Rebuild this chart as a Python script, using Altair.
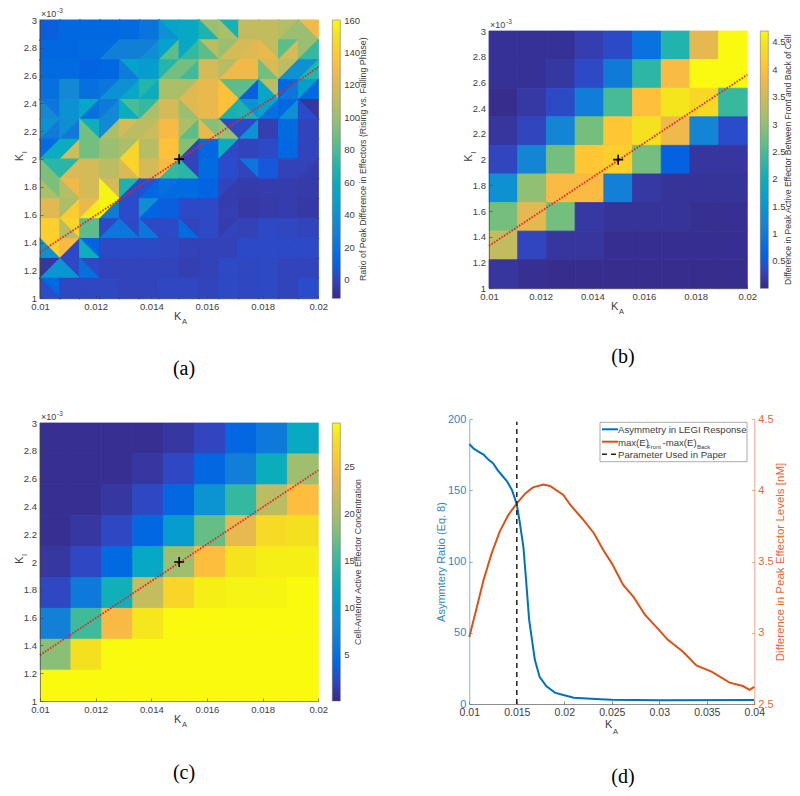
import altair as alt
import numpy as np
import pandas as pd

# MATLAB parula, 64 steps
PARULA_RGB = [
    (.2081, .1663, .5292), (.2116, .1898, .5777), (.2123, .2138, .6270), (.2081, .2386, .6771),
    (.1959, .2645, .7279), (.1707, .2919, .7792), (.1253, .3242, .8303), (.0591, .3598, .8683),
    (.0117, .3875, .8820), (.0060, .4086, .8828), (.0165, .4266, .8786), (.0329, .4430, .8720),
    (.0498, .4586, .8641), (.0629, .4737, .8554), (.0723, .4887, .8467), (.0779, .5040, .8384),
    (.0793, .5200, .8312), (.0749, .5375, .8263), (.0641, .5570, .8240), (.0488, .5772, .8228),
    (.0343, .5966, .8199), (.0265, .6137, .8135), (.0239, .6287, .8038), (.0231, .6418, .7913),
    (.0228, .6535, .7768), (.0267, .6642, .7607), (.0384, .6743, .7436), (.0590, .6838, .7254),
    (.0843, .6928, .7062), (.1133, .7015, .6859), (.1453, .7098, .6646), (.1801, .7177, .6424),
    (.2178, .7250, .6193), (.2586, .7317, .5954), (.3022, .7376, .5712), (.3482, .7424, .5473),
    (.3953, .7459, .5244), (.4420, .7481, .5033), (.4871, .7491, .4840), (.5300, .7491, .4661),
    (.5709, .7485, .4494), (.6099, .7473, .4337), (.6473, .7456, .4188), (.6834, .7435, .4044),
    (.7184, .7411, .3905), (.7525, .7384, .3768), (.7858, .7356, .3633), (.8185, .7327, .3498),
    (.8507, .7299, .3360), (.8824, .7274, .3217), (.9139, .7258, .3063), (.9450, .7261, .2886),
    (.9739, .7314, .2666), (.9938, .7455, .2403), (.9990, .7653, .2164), (.9955, .7861, .1967),
    (.9880, .8066, .1794), (.9789, .8271, .1633), (.9697, .8481, .1475), (.9626, .8705, .1309),
    (.9589, .8949, .1132), (.9598, .9218, .0948), (.9661, .9514, .0755), (.9763, .9831, .0538),
]
PARULA = ["#%02x%02x%02x" % tuple(int(round(c * 255)) for c in rgb) for rgb in PARULA_RGB]

# Panel (a): 14 x 14 cells, top row first, each split into two flat triangles.
# DIAG_A: f = "/" (FIRST is upper-left, SECOND lower-right); b = "\" (FIRST is upper-right, SECOND lower-left)
DIAG_A = ["ffffffbfbbfffb",
          "ffffffffbffbff",
          "ffffbffffffbff",
          "fffffffffbfbff",
          "bfffbffbffbffb",
          "ffbfffffbbffff",
          "ffffffffffffff",
          "bfffbffbffbfff",
          "bbfbffffffffff",
          "ffffffffffffff",
          "fbffbbfbffffff",
          "bfbfffffffffff",
          "fbbfffffffffff",
          "bfffffffffffff"]
FIRST_A = [
    [9, 13, 13, 13, 15, 20, 52, 55, 100, 65, 112, 112, 108, 128],
    [13, 13, 15, 15, 28, 28, 50, 55, 110, 100, 118, 112, 85, 100],
    [15, 15, 11, 13, 50, 45, 70, 90, 118, 108, 128, 120, 110, 40],
    [18, 35, 18, 22, 40, 70, 105, 105, 125, 85, 85, 110, 13, 48],
    [22, 40, 55, 25, 80, 75, 118, 122, 125, 135, 40, 50, 13, -6],
    [40, 38, 62, 35, 118, 110, 130, 105, 95, 2, 2, -2, 15, 0],
    [15, 60, 90, 100, 105, 108, 135, 95, 13, 60, 0, 2, 13, 0],
    [72, 72, 118, 110, 145, 118, 130, 0, 15, 3, 22, 7, -1, -1],
    [92, 128, 118, 118, 68, 5, 18, 15, 11, 0, -4, -3, -3, -4],
    [122, 105, 125, 158, 3, 38, 9, 2, 2, -3, -5, -4, -3, -5],
    [142, 145, 85, 2, 2, 2, 2, 0, 2, -3, -1, 2, 1, 0],
    [142, 130, 11, 2, 2, 2, 1, -1, -1, -1, 2, 2, 2, 2],
    [-6, 2, 2, 0, 0, 0, 0, -2, -1, 2, 1, 2, 0, 0],
    [13, 1, 1, 1, 0, 0, 1, 1, 0, 2, 1, 2, 0, 3],
]
SECOND_A = [
    [9, 13, 13, 13, 15, 20, 40, 55, 68, 105, 112, 112, 100, 100],
    [13, 13, 15, 28, 28, 38, 85, 75, 85, 118, 122, 125, 118, 75],
    [15, 15, 11, 13, 25, 48, 90, 78, 118, 128, 128, 90, 40, 70],
    [18, 35, 18, 40, 55, 60, 105, 122, 125, 135, 9, 55, 22, 13],
    [35, 40, 18, 35, 60, 105, 118, 100, 125, 65, 68, 18, 40, 3],
    [25, 25, 90, 105, 110, 115, 130, 85, 125, 100, 40, -2, 15, 0],
    [60, 115, 90, 100, 145, 108, 135, 0, 13, 2, 0, 2, 13, 0],
    [92, 120, 118, 110, 120, 118, 75, 72, 15, 3, 0, 7, -1, -3],
    [105, 108, 118, 158, 3, 13, 15, 15, 11, -3, -4, -3, -3, -4],
    [122, 140, 155, 25, 3, 11, 9, 2, 2, -2, -5, -4, -3, -5],
    [142, 108, 85, 22, 22, 22, 2, 15, 2, 0, -1, 2, 1, 0],
    [40, 2, 62, 2, 2, 2, 1, -1, -1, -1, 2, 2, 2, 2],
    [42, 42, 18, 0, 0, 0, 0, -2, -1, 2, 1, 2, 0, 0],
    [3, 1, 1, 1, 0, 0, 1, 1, 0, 2, 1, 2, 0, 3],
]

# Panel (b): 9 x 9 cells, top row first
VAL_B = [
    [0.10, 0.10, 0.10, 0.25, 0.38, 0.85, 2.20, 3.70, 4.70],
    [0.10, 0.10, 0.17, 0.38, 1.00, 2.30, 3.90, 4.70, 4.70],
    [0.05, 0.18, 0.38, 1.05, 2.50, 4.00, 4.50, 4.35, 2.40],
    [0.15, 0.33, 1.20, 2.80, 4.10, 4.45, 3.80, 1.20, 0.40],
    [0.33, 1.20, 2.80, 4.10, 4.20, 2.80, 0.60, 0.15, 0.15],
    [1.40, 3.00, 3.90, 3.90, 1.10, 0.18, 0.12, 0.12, 0.12],
    [2.80, 3.70, 2.80, 0.18, 0.12, 0.12, 0.12, 0.08, 0.08],
    [3.40, 0.33, 0.15, 0.15, 0.07, 0.07, 0.07, 0.07, 0.07],
    [0.15, 0.08, 0.05, 0.05, 0.05, 0.05, 0.05, 0.05, 0.05],
]
# Panel (c): 9 x 9 cells, top row first
VAL_C = [
    [0.5, 0.5, 0.5, 0.5, 1.0, 2.1, 4.2, 6.0, 12.0],
    [0.5, 0.5, 0.5, 1.0, 2.3, 4.2, 6.8, 12.5, 19.5],
    [0.5, 0.5, 1.0, 2.3, 4.2, 9.0, 15.0, 21.0, 25.0],
    [0.5, 1.0, 2.3, 4.3, 10.0, 17.0, 23.5, 27.5, 28.0],
    [1.0, 2.3, 4.5, 11.5, 19.5, 25.0, 28.3, 29.0, 29.0],
    [2.3, 6.0, 13.0, 21.5, 27.0, 29.0, 29.3, 29.3, 29.7],
    [7.0, 15.5, 24.5, 28.5, 29.7, 29.7, 29.7, 29.7, 29.7],
    [18.5, 28.0, 29.7, 29.7, 29.7, 29.7, 29.7, 29.7, 29.7],
    [29.7, 29.7, 29.7, 29.7, 29.7, 29.7, 29.7, 29.7, 29.7],
]
LINE_KA = [0.01, 0.02]
LINE_KI = [1.33, 2.66]
PLUS_KA = [0.015]
PLUS_KI = [2.0]

# Panel (d)
BLUE_X = [0.01, 0.0105, 0.011, 0.0115, 0.012, 0.0125, 0.013, 0.0135, 0.014, 0.0145, 0.015,
          0.0153, 0.0157, 0.016, 0.0163, 0.0169, 0.0174, 0.0181, 0.019, 0.0199, 0.021,
          0.0238, 0.025, 0.03, 0.04]
BLUE_Y = [182.5, 179, 177, 175, 171.5, 169, 164, 160, 156, 150, 140,
          128, 110, 85, 59, 31, 19, 12.6, 8, 6.3, 4.4, 3.3, 3, 2.7, 2.8]
ORANGE_X = [0.01, 0.0108, 0.0115, 0.01235, 0.0132, 0.0141, 0.015, 0.0159, 0.0167, 0.0178, 0.0185,
            0.0199, 0.0206, 0.0219, 0.0231, 0.0241, 0.025, 0.0262, 0.0273, 0.0285, 0.0297, 0.0309,
            0.0325, 0.0339, 0.0355, 0.0374, 0.0388, 0.0395, 0.04]
ORANGE_Y = [2.97, 3.18, 3.37, 3.557, 3.71, 3.826, 3.908, 3.978, 4.02, 4.04, 4.03,
            3.967, 3.9, 3.80, 3.70, 3.58, 3.487, 3.335, 3.25, 3.125, 3.04, 2.95,
            2.867, 2.77, 2.727, 2.65, 2.626, 2.6, 2.62]
PAPER_X = [0.015]

KA_TICKS = [0.01, 0.012, 0.014, 0.016, 0.018, 0.02]
KI_TICKS = [1, 1.2, 1.4, 1.6, 1.8, 2, 2.2, 2.4, 2.6, 2.8, 3]
D_X_TICKS = [0.01, 0.015, 0.02, 0.025, 0.03, 0.035, 0.04]
D_L_TICKS = [0, 50, 100, 150, 200]
D_R_TICKS = [2.5, 3, 3.5, 4, 4.5]

W, H = 784, 780
SANS = "Liberation Sans"
GREY = "#404040"
BLUE = "#0072BD"
ORANGE = "#D95319"
AXBLUE = "#2E86C4"
AXORANGE = "#E0693A"
FMT = ".6~r"


def parula_hex(v, lo, hi):
    """Same colour as the colour scale gives, used for the thin seam-hiding outline of each polygon."""
    p = np.clip((v - lo) / (hi - lo), 0, 1) * (len(PARULA_RGB) - 1)
    a = int(np.floor(p))
    b = min(a + 1, len(PARULA_RGB) - 1)
    f = p - a
    return "#%02x%02x%02x" % tuple(
        int(round(255 * (PARULA_RGB[a][c] * (1 - f) + PARULA_RGB[b][c] * f))) for c in range(3))


def color_scale(lo, hi):
    return alt.Scale(domain=[lo, hi], range=PARULA, clamp=True)


def xscale(dom, l, r):
    return alt.Scale(domain=dom, range=[l, r], nice=False, zero=False)


def yscale(dom, t, b):
    return alt.Scale(domain=dom, range=[b, t], nice=False, zero=False)


def x_axis(bottom, values, color=GREY, size=9.5):
    return alt.Axis(orient="top", offset=-bottom, values=values, format=FMT, title=None, grid=False,
                    tickSize=3, tickWidth=0.6, tickColor=color, domainColor=color, domainWidth=0.6,
                    labelColor=GREY, labelFont=SANS, labelFontSize=size, labelBaseline="top",
                    labelPadding=-6, labelOverlap=False, labelFlush=False, zindex=1)


def y_axis(left, values, color=GREY, labelcolor=GREY, size=9.5):
    return alt.Axis(orient="right", offset=left - W, values=values, format=FMT, title=None, grid=False,
                    tickSize=3, tickWidth=0.6, tickColor=color, domainColor=color, domainWidth=0.6,
                    labelColor=labelcolor, labelFont=SANS, labelFontSize=size, labelAlign="right",
                    labelPadding=-6.5, labelOverlap=False, labelFlush=False, zindex=1)


def y_axis_r(right, values, color, labelcolor, size):
    return alt.Axis(orient="left", offset=-right, values=values, format=FMT, title=None, grid=False,
                    tickSize=3, tickWidth=0.6, tickColor=color, domainColor=color, domainWidth=0.6,
                    labelColor=labelcolor, labelFont=SANS, labelFontSize=size, labelAlign="left",
                    labelPadding=-6.5, labelOverlap=False, labelFlush=False, zindex=1)


def legend(x, y, length, values):
    return alt.Legend(orient="none", legendX=x, legendY=y, type="gradient", direction="vertical", title=None,
                      gradientLength=length, gradientThickness=8, gradientStrokeColor="#666666",
                      gradientStrokeWidth=0.5, values=values, format=FMT, labelFont=SANS,
                      labelFontSize=9.5, labelColor=GREY, labelOffset=4, labelOverlap=False, padding=0)


def txt(x, y, s, size=11, color=GREY, font=SANS, angle=0, align="left", baseline="alphabetic"):
    return alt.Chart(pd.DataFrame({"t": [s]})).mark_text(
        font=font, fontSize=size, color=color, angle=angle, align=align, baseline=baseline
    ).encode(text="t:N", x=alt.value(x), y=alt.value(y))


layers = []

# ---------- panel (a) ----------
L, R, T, B = 32, 310.3, 12, 290.3
LO_A, HI_A = -11.3, 160.4
rows = []
step_x = 0.01 / 14
step_y = 2 / 14
for j in range(14):
    top, low = 3 - j * step_y, 3 - (j + 1) * step_y
    for i in range(14):
        x0, x1 = 0.01 + i * step_x, 0.01 + (i + 1) * step_x
        a, b = FIRST_A[j][i], SECOND_A[j][i]
        if DIAG_A[j][i] == "f":
            t1 = [(x0, low, top), (x1, top, top)]
            t2 = [(x0, low, low), (x1, low, top)]
        else:
            t1 = [(x0, top, top), (x1, low, top)]
            t2 = [(x0, low, top), (x1, low, low)]
        for k, (tri, v) in enumerate(((t1, a), (t2, b))):
            for (px, p1, p2) in tri:
                rows.append({"tri": f"{j}-{i}-{k}", "ka": px, "y1": p1, "y2": p2, "v": v,
                             "edge": parula_hex(v, LO_A, HI_A)})
tri_df = pd.DataFrame(rows)
layers.append(
    alt.Chart(tri_df).mark_area(strokeWidth=1.1).encode(
        x=alt.X("ka:Q", scale=xscale([0.01, 0.02], L, R), axis=x_axis(B, KA_TICKS)),
        y=alt.Y("y1:Q", scale=yscale([1, 3], T, B), axis=y_axis(L, KI_TICKS)),
        y2="y2:Q",
        detail="tri:N",
        color=alt.Color("v:Q", scale=color_scale(LO_A, HI_A),
                        legend=legend(324.3, T, 278.3, [0, 20, 40, 60, 80, 100, 120, 140, 160])),
        stroke=alt.Stroke("edge:N", scale=None),
    )
)


def heat(vals, L, R, T, B, lo, hi, leg_x, leg_vals):
    n = 9
    rows = []
    for j in range(n):
        for i in range(n):
            rows.append({"x0": 0.01 + i * 0.01 / n, "x1": 0.01 + (i + 1) * 0.01 / n,
                         "y0": 3 - (j + 1) * 2 / n, "y1": 3 - j * 2 / n, "v": vals[j][i],
                         "edge": parula_hex(vals[j][i], lo, hi)})
    return alt.Chart(pd.DataFrame(rows)).mark_rect(strokeWidth=0.8).encode(
        x=alt.X("x0:Q", scale=xscale([0.01, 0.02], L, R), axis=x_axis(B, KA_TICKS)),
        x2="x1:Q",
        y=alt.Y("y0:Q", scale=yscale([1, 3], T, B), axis=y_axis(L, KI_TICKS)),
        y2="y1:Q",
        color=alt.Color("v:Q", scale=color_scale(lo, hi), legend=legend(leg_x, T, B - T, leg_vals)),
        stroke=alt.Stroke("edge:N", scale=None),
    )


def overlay(L, R, T, B):
    xs = xscale([0.01, 0.02], L, R)
    ys = yscale([1, 3], T, B)
    line = alt.Chart(pd.DataFrame({"ka": LINE_KA, "ki": LINE_KI})).mark_line(
        color="#E3242B", strokeWidth=1.8, strokeDash=[1.6, 1.4]
    ).encode(x=alt.X("ka:Q", scale=xs, axis=None), y=alt.Y("ki:Q", scale=ys, axis=None))
    plus = alt.Chart(pd.DataFrame({"ka": PLUS_KA, "ki": PLUS_KI})).mark_point(
        shape="M-1,0H1M0,-1V1", size=100, stroke="black", strokeWidth=1.6, filled=False, opacity=1
    ).encode(x=alt.X("ka:Q", scale=xs, axis=None), y=alt.Y("ki:Q", scale=ys, axis=None))
    return [line, plus]


def labels(L, T, B, cx, ylab_x):
    """K_A, K_I and x10^-3 labels"""
    my = (T + B) / 2
    return [
        txt(cx - 7, B + 22, "K", 11),
        txt(cx + 1, B + 26, "A", 7.5),
        txt(ylab_x, my + 2, "K", 11, angle=270),
        txt(ylab_x + 3.5, my - 6, "I", 7.5, angle=270),
        txt(L + 1, T - 3.5, "\u00d710", 9),
        txt(L + 17, T - 7, "-3", 6.5),
    ]


layers += overlay(L, R, T, B)
layers += labels(L, T, B, 173, 15)
layers.append(txt(354.7, (T + B) / 2, "Ratio of Peak Difference in Effectors (Rising vs. Falling Phase)", 8.8,
                  angle=270, align="center", baseline="middle"))
layers.append(txt(176, 361, "(a)", 20, color="black", font="Liberation Serif", align="center", baseline="middle"))

# ---------- panel (b) ----------
L, R, T, B = 481, 739.3, 23, 280.3
layers.append(heat(VAL_B, L, R, T, B, 0.01, 4.71, 752.3, [0.5, 1, 1.5, 2, 2.5, 3, 3.5, 4, 4.5]))
layers += overlay(L, R, T, B)
layers += labels(L, T, B, 610, 464)
layers.append(txt(780, (T + B) / 2, "Difference in Peak Active Effector Between Front and Back of Cell", 8.6,
                  angle=270, align="center", baseline="middle"))
layers.append(txt(615, 349, "(b)", 20, color="black", font="Liberation Serif", align="center", baseline="middle"))

# ---------- panel (c) ----------
L, R, T, B = 32, 310.3, 415, 693
layers.append(heat(VAL_C, L, R, T, B, 0.05, 29.73, 324.3, [5, 10, 15, 20, 25]))
layers += overlay(L, R, T, B)
layers += labels(L, T, B, 173, 15)
layers.append(txt(350, (T + B) / 2, "Cell-Anterior Active Effector Concentration", 8.9,
                  angle=270, align="center", baseline="middle"))
layers.append(txt(176, 765, "(c)", 20, color="black", font="Liberation Serif", align="center", baseline="middle"))

# ---------- panel (d) ----------
L, R, T, B = 461.3, 746.3, 411, 696
dx = xscale([0.01, 0.04], L, R)
dyl = yscale([0, 200], T, B)
dyr = yscale([2.5, 4.5], T, B)
layers.append(
    alt.Chart(pd.DataFrame({"ka": BLUE_X, "r": BLUE_Y})).mark_line(color=BLUE, strokeWidth=2).encode(
        x=alt.X("ka:Q", scale=dx, axis=x_axis(B, D_X_TICKS, size=10.5)),
        y=alt.Y("r:Q", scale=dyl, axis=y_axis(L, D_L_TICKS, AXBLUE, AXBLUE, 11)),
    )
)
layers.append(
    alt.Chart(pd.DataFrame({"ka": ORANGE_X, "d": ORANGE_Y})).mark_line(color=ORANGE, strokeWidth=2).encode(
        x=alt.X("ka:Q", scale=dx, axis=None),
        y=alt.Y("d:Q", scale=dyr, axis=y_axis_r(R, D_R_TICKS, AXORANGE, AXORANGE, 11)),
    )
)
layers.append(
    alt.Chart(pd.DataFrame({"ka": PAPER_X, "lo": [0], "hi": [198]})).mark_rule(
        color="#222222", strokeWidth=1.5, strokeDash=[5, 4]
    ).encode(
        x=alt.X("ka:Q", scale=dx, axis=None),
        y=alt.Y("lo:Q", scale=dyl, axis=None),
        y2="hi:Q",
    )
)
layers += [
    txt(597, 720, "K", 11),
    txt(605, 726, "A", 7.5),
    txt(437, 554, "Asymmtery Ratio (Eq. 8)", 11, color=AXBLUE, angle=270, align="center"),
    txt(776, 554, "Difference in Peak Effector Levels [nM]", 11.5, color=AXORANGE, angle=270, align="center"),
]
# legend box of panel (d)
layers.append(
    alt.Chart(pd.DataFrame({"a": [0]})).mark_rect(fill="white", stroke="#888888", strokeWidth=0.7).encode(
        x=alt.value(592), x2=alt.value(739), y=alt.value(414.3), y2=alt.value(453.7)
    )
)
for yy, col, dash in ((421.3, BLUE, None), (433.7, ORANGE, None), (446.3, "#222222", [5, 4])):
    kw = {"strokeDash": dash} if dash else {}
    layers.append(
        alt.Chart(pd.DataFrame({"a": [0]})).mark_rule(color=col, strokeWidth=2 if not dash else 1.5, **kw).encode(
            x=alt.value(594), x2=alt.value(610), y=alt.value(yy)
        )
    )
layers += [
    txt(610, 425, "Asymmetry in LEGI Response", 9.6),
    txt(610, 437.5, "max(E)", 9.6),
    txt(639, 440.5, "Front", 6),
    txt(654.5, 437.5, "-max(E)", 9.6),
    txt(689, 440.5, "Back", 6),
    txt(610, 450, "Parameter Used in Paper", 9.6),
]
layers.append(txt(615, 769, "(d)", 20, color="black", font="Liberation Serif", align="center", baseline="middle"))

chart = alt.layer(*layers).resolve_scale(
    x="independent", y="independent", color="independent"
).resolve_axis(x="independent", y="independent").properties(
    width=W, height=H, padding=0, autosize=alt.AutoSizeParams(type="none")
).configure_view(stroke=None)

chart.save("out.html", embed_options={"renderer": "svg", "actions": False})
